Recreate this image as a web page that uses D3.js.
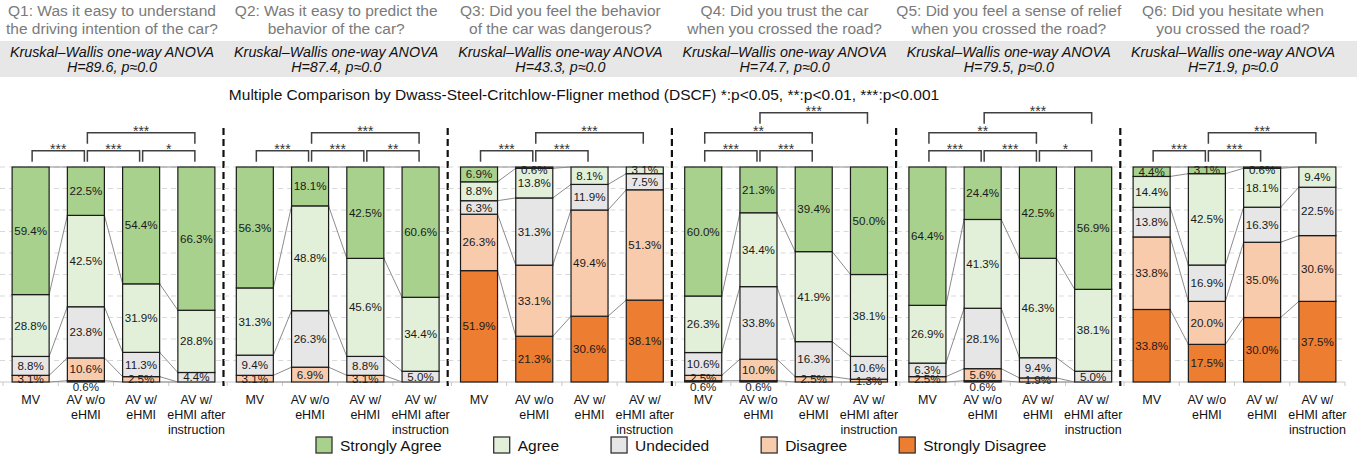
<!DOCTYPE html>
<html lang="en">

<head>
  <meta charset="utf-8">
  <script src="https://d3js.org/d3.v7.min.js"></script>
  <title></title>
  <style>
    body {
      margin: 0;
      background: #fff;
    }

    svg {
      display: block;
      font-family: 'Liberation Sans', Arial, sans-serif;
    }

    .title {
      fill: #7a7a7a;
      font-size: 15.5px;
    }

    .kw {
      fill: #111;
      font-size: 14.3px;
      font-style: italic;
    }

    .pct {
      fill: #1a1a1a;
      font-size: 11.6px;
    }

    .xlabel {
      fill: #111;
      font-size: 12.5px;
    }

    .sig {
      fill: #333;
      font-size: 14px;
    }

    .legend text {
      fill: #111;
      font-size: 15.5px;
    }
  </style>
</head>

<body>
  <div id="chart"></div>
  <script>
    // Groups, answer levels and question texts.

    var groups = ['MV', 'AV w/o eHMI', 'AV w/ eHMI', 'AV w/ eHMI after instruction'];
    var groupLines = [['MV'], ['AV w/o', 'eHMI'], ['AV w/', 'eHMI'], ['AV w/', 'eHMI after', 'instruction']];
    var levels = ['Strongly Agree', 'Agree', 'Undecided', 'Disagree', 'Strongly Disagree'];
    var levelColors = ['#a9d18e', '#e2f0d9', '#e6e6e6', '#f8cbad', '#ed7d31'];

    var titles = [
      ['Q1: Was it easy to understand', 'the driving intention of the car?'],
      ['Q2: Was it easy to predict the', 'behavior of the car?'],
      ['Q3: Did you feel the behavior', 'of the car was dangerous?'],
      ['Q4: Did you trust the car', 'when you crossed the road?'],
      ['Q5: Did you feel a sense of relief', 'when you crossed the road?'],
      ['Q6: Did you hesitate when', 'you crossed the road?']
    ];
    var kwH = [89.6, 87.4, 43.3, 74.7, 79.5, 71.9];

    // Percentages per group, in the order of levels (SA, A, U, D, SD).

    var q1 = [[59.4, 28.8, 8.8, 3.1, 0], [22.5, 42.5, 23.8, 10.6, 0.6], [54.4, 31.9, 11.3, 2.5, 0], [66.3, 28.8, 4.4, 0, 0]];
    var q2 = [[56.3, 31.3, 9.4, 3.1, 0], [18.1, 48.8, 26.3, 6.9, 0], [42.5, 45.6, 8.8, 3.1, 0], [60.6, 34.4, 5.0, 0, 0]];
    var q3 = [[6.9, 8.8, 6.3, 26.3, 51.9], [0.6, 13.8, 31.3, 33.1, 21.3], [0, 8.1, 11.9, 49.4, 30.6], [0, 3.1, 7.5, 51.3, 38.1]];
    var q4 = [[60.0, 26.3, 10.6, 2.5, 0.6], [21.3, 34.4, 33.8, 10.0, 0.6], [39.4, 41.9, 16.3, 2.5, 0], [50.0, 38.1, 10.6, 1.3, 0]];
    var q5 = [[64.4, 26.9, 6.3, 2.5, 0], [24.4, 41.3, 28.1, 5.6, 0.6], [42.5, 46.3, 9.4, 1.9, 0], [56.9, 38.1, 5.0, 0, 0]];
    var q6 = [[4.4, 14.4, 13.8, 33.8, 33.8], [3.1, 42.5, 16.9, 20.0, 17.5], [0.6, 18.1, 16.3, 35.0, 30.0], [0, 9.4, 22.5, 30.6, 37.5]];

    // Significance brackets: [from group, to group, label, level].

    var sig1 = [[0, 1, '***', 0], [1, 2, '***', 0], [2, 3, '*', 0], [1, 3, '***', 1]];
    var sig2 = [[0, 1, '***', 0], [1, 2, '***', 0], [2, 3, '**', 0], [1, 3, '***', 1]];
    var sig3 = [[0, 1, '***', 0], [1, 2, '***', 0], [1, 3, '***', 1]];
    var sig4 = [[0, 1, '***', 0], [1, 2, '***', 0], [0, 2, '**', 1], [1, 3, '***', 2]];
    var sig5 = [[0, 1, '***', 0], [1, 2, '***', 0], [2, 3, '*', 0], [0, 2, '**', 1], [1, 3, '***', 2]];
    var sig6 = [[0, 1, '***', 0], [1, 2, '***', 0], [1, 3, '***', 1]];

    var questions = [q1, q2, q3, q4, q5, q6];
    var sigs = [sig1, sig2, sig3, sig4, sig5, sig6];

    var width = 1357,
      height = 459;

    var panelStep = 224.2,
      bracketY = [150.7, 132.7, 112.7];

    var svg = d3.select('#chart')
      .append('svg')
      .attr('width', width)
      .attr('height', height);

    // Grey band behind the test results.

    svg.append('rect')
      .attr('x', 0)
      .attr('y', 41)
      .attr('width', width)
      .attr('height', 36)
      .attr('fill', '#e7e7e7');

    svg.append('text')
      .attr('x', 584)
      .attr('y', 100)
      .attr('text-anchor', 'middle')
      .attr('fill', '#111')
      .style('font-size', '15.5px')
      .text('Multiple Comparison by Dwass-Steel-Critchlow-Fligner method (DSCF) *:p<0.05, **:p<0.01, ***:p<0.001');

    var yScale = d3.scaleLinear()
      .domain([0, 1])
      .range([382, 167]);

    var colorScale = d3.scaleOrdinal()
      .domain(levels)
      .range(levelColors);

    // Stack from the bottom (Strongly Disagree) to the top.

    var stack = d3.stack()
      .keys(levels.slice().reverse())
      .offset(d3.stackOffsetExpand);

    var fmt = d3.format('.1f');

    questions.forEach(function(q, qi) {

      var px = panelStep * qi;

      var rows = q.map(function(vals, gi) {
        var row = { group: groups[gi] };
        levels.forEach(function(l, li) {
          row[l] = vals[li];
        });
        return row;
      });

      var series = stack(rows);

      var xScale = d3.scaleBand()
        .domain(groups)
        .range([px + 3, px + 224])
        .paddingInner(0.33)
        .paddingOuter(0.165);

      var bw = xScale.bandwidth();
      var step = xScale.step();

      var g = svg.append('g');

      // Titles.

      titles[qi].forEach(function(t, i) {
        g.append('text')
          .attr('class', 'title')
          .attr('x', px + 112)
          .attr('y', 16 + i * 18)
          .attr('text-anchor', 'middle')
          .text(t);
      });

      g.append('text')
        .attr('class', 'kw')
        .attr('x', px + 112)
        .attr('y', 57)
        .attr('text-anchor', 'middle')
        .text('Kruskal\u2013Wallis one-way ANOVA');

      g.append('text')
        .attr('class', 'kw')
        .attr('x', px + 112)
        .attr('y', 72)
        .attr('text-anchor', 'middle')
        .text('H=' + kwH[qi] + ', p\u22480.0');

      // Grid lines.

      g.append('g')
        .selectAll('line')
        .data(d3.range(1, 11).map(function(d) { return d / 10; }))
        .enter()
        .append('line')
        .attr('x1', px)
        .attr('x2', px + 224)
        .attr('y1', function(d) { return yScale(d); })
        .attr('y2', function(d) { return yScale(d); })
        .attr('stroke', '#d9d9d9')
        .attr('stroke-dasharray', '5,4');

      g.append('line')
        .attr('x1', px)
        .attr('x2', px + 224)
        .attr('y1', yScale(0))
        .attr('y2', yScale(0))
        .attr('stroke', '#c8c8c8');

      g.append('g')
        .selectAll('line')
        .data(d3.range(0, 5))
        .enter()
        .append('line')
        .attr('x1', function(d) { return px + 3 + d * step; })
        .attr('x2', function(d) { return px + 3 + d * step; })
        .attr('y1', yScale(0))
        .attr('y2', yScale(0) + 4)
        .attr('stroke', '#c8c8c8');

      // Series lines between neighbouring bars.

      series.forEach(function(layer) {
        for (var k = 0; k < layer.length - 1; k++) {
          g.append('line')
            .attr('x1', xScale(groups[k]) + bw)
            .attr('x2', xScale(groups[k + 1]))
            .attr('y1', yScale(layer[k][1]))
            .attr('y2', yScale(layer[k + 1][1]))
            .attr('stroke', '#8c8c8c')
            .attr('stroke-width', 1);
        }
      });

      // Bars.

      var segs = [];
      series.forEach(function(layer) {
        layer.forEach(function(d) {
          segs.push({ key: layer.key, y0: d[0], y1: d[1], group: d.data.group, value: d.data[layer.key] });
        });
      });
      segs = segs.filter(function(d) { return d.value > 0; });

      g.append('g')
        .selectAll('rect')
        .data(segs)
        .enter()
        .append('rect')
        .attr('x', function(d) { return xScale(d.group); })
        .attr('y', function(d) { return yScale(d.y1); })
        .attr('width', bw)
        .attr('height', function(d) { return yScale(d.y0) - yScale(d.y1); })
        .attr('fill', function(d) { return colorScale(d.key); })
        .attr('stroke', '#1a1a1a')
        .attr('stroke-width', 1.2);

      g.append('g')
        .selectAll('text')
        .data(segs)
        .enter()
        .append('text')
        .attr('class', 'pct')
        .attr('x', function(d) { return xScale(d.group) + bw / 2; })
        .attr('y', function(d) {
          var c = (yScale(d.y0) + yScale(d.y1)) / 2;
          if (d.value < 1 && d.y0 === 0) c = yScale(0) + 5;
          if (d.value < 1 && d.y1 > 0.999) c = yScale(1) + 2.5;
          return c;
        })
        .attr('dy', '0.35em')
        .attr('text-anchor', 'middle')
        .text(function(d) { return fmt(d.value) + '%'; });

      // Group labels.

      groupLines.forEach(function(lines, gi) {
        var t = g.append('text')
          .attr('class', 'xlabel')
          .attr('text-anchor', 'middle')
          .attr('x', xScale(groups[gi]) + bw / 2)
          .attr('y', 404);
        lines.forEach(function(l, li) {
          t.append('tspan')
            .attr('x', xScale(groups[gi]) + bw / 2)
            .attr('dy', li === 0 ? 0 : 14.8)
            .text(l);
        });
      });

      // Significance brackets.

      sigs[qi].forEach(function(s) {
        var x1 = xScale(groups[s[0]]) + bw / 2 + 1.5,
          x2 = xScale(groups[s[1]]) + bw / 2 - 1.5,
          y = bracketY[s[3]];
        g.append('path')
          .attr('d', 'M' + x1 + ',' + (y + 11) + 'V' + y + 'H' + x2 + 'V' + (y + 11))
          .attr('fill', 'none')
          .attr('stroke', '#404040')
          .attr('stroke-width', 1.5);
        g.append('text')
          .attr('class', 'sig')
          .attr('x', (x1 + x2) / 2)
          .attr('y', y + 3)
          .attr('text-anchor', 'middle')
          .text(s[2]);
      });

      // Dashed separator to the next panel.

      if (qi < questions.length - 1) {
        g.append('line')
          .attr('x1', px + 223.5)
          .attr('x2', px + 223.5)
          .attr('y1', 128)
          .attr('y2', 386)
          .attr('stroke', '#111')
          .attr('stroke-width', 2.2)
          .attr('stroke-dasharray', '7,4');
      }
    });

    // Legend.

    var legend = svg.append('g')
      .attr('class', 'legend');

    var lx = 316;
    levels.forEach(function(l) {
      var item = legend.append('g')
        .attr('transform', 'translate(' + lx + ',437)');
      item.append('rect')
        .attr('width', 16)
        .attr('height', 16)
        .attr('fill', colorScale(l))
        .attr('stroke', '#333')
        .attr('stroke-width', 1.3);
      var t = item.append('text')
        .attr('x', 24)
        .attr('y', 13.5)
        .text(l);
      lx += 24 + t.node().getComputedTextLength() + 52;
    });
  </script>
</body>

</html>
